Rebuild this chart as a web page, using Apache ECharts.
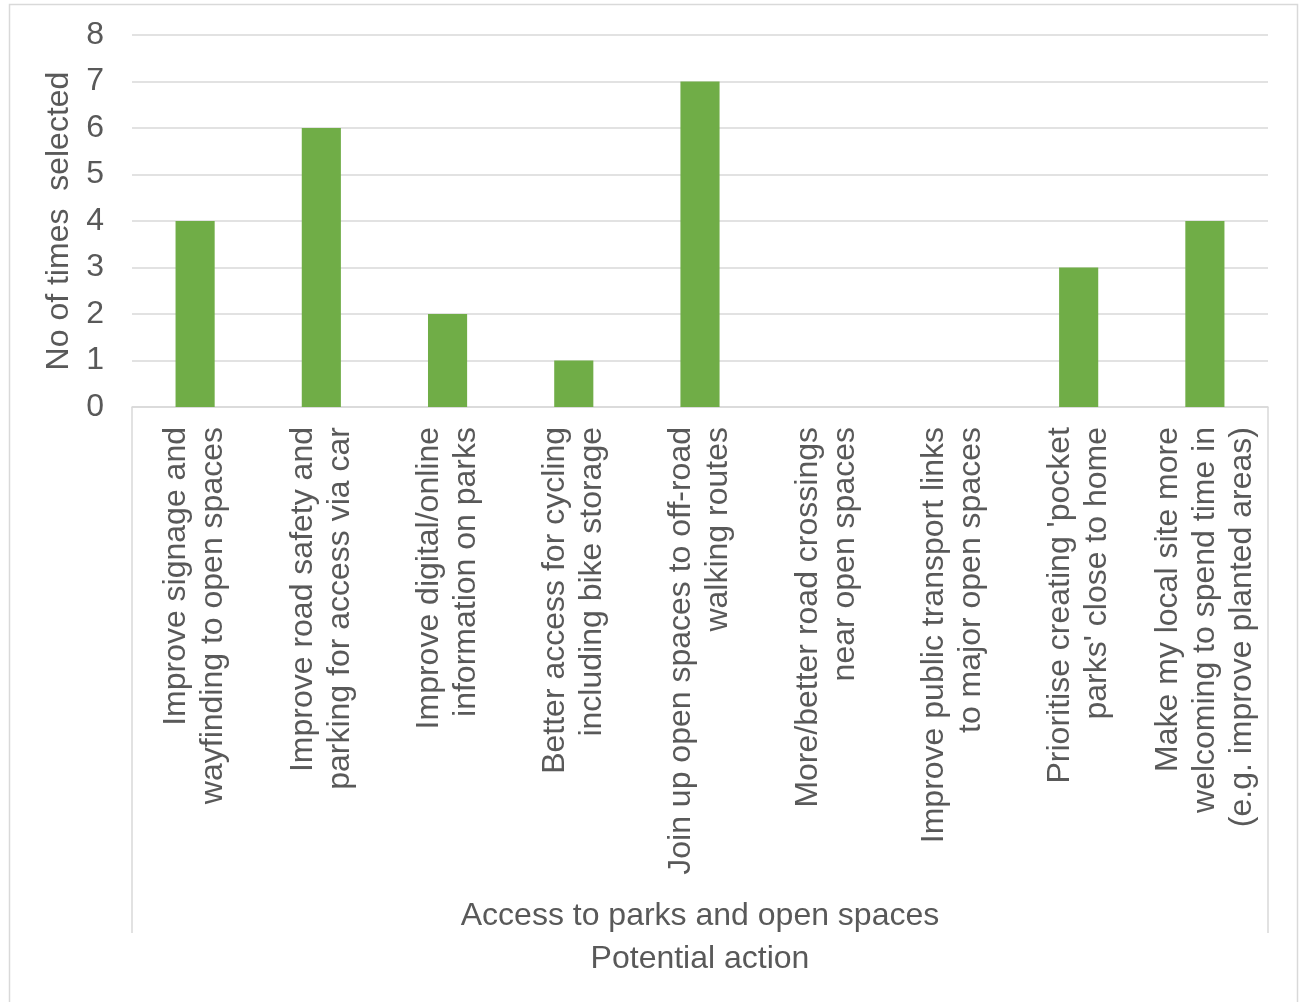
<!DOCTYPE html>
<html>
<head>
<meta charset="utf-8">
<script src="https://cdn.jsdelivr.net/npm/echarts@6/dist/echarts.min.js"></script>
<style>
  html, body { margin: 0; padding: 0; background: #fff; }
  #chart { width: 1302px; height: 1002px; }
</style>
</head>
<body>
<div id="chart"></div>
<script>
// Actions offered under the "Access to parks and open spaces" theme
const categories = [
  "Improve signage and\nwayfinding to open spaces",
  "Improve road safety and\nparking for access via car",
  "Improve digital/online\ninformation on parks",
  "Better access for cycling\nincluding bike storage",
  "Join up open spaces to off-road\nwalking routes",
  "More/better road crossings\nnear open spaces",
  "Improve public transport links\nto major open spaces",
  "Prioritise creating 'pocket\nparks' close to home",
  "Make my local site more\nwelcoming to spend time in\n(e.g. improve planted areas)"
];
const timesSelected = [4, 6, 2, 1, 7, 0, 0, 3, 4];
const groupLabels = ["Access to parks and open spaces"];
const yTicks = [0, 1, 2, 3, 4, 5, 6, 7, 8];

const FONT = "'Liberation Sans', Arial, sans-serif";
const TEXT = "#595959";
const LINE = "#D9D9D9";
const FS = 32;

const chart = echarts.init(document.getElementById("chart"), null, { renderer: "canvas" });

chart.setOption({
  backgroundColor: "#ffffff",
  animation: false,
  textStyle: { fontFamily: FONT },
  grid: { left: 132, right: 34, top: 35, bottom: 595, containLabel: false },
  graphic: [{
    type: "rect",
    shape: { x: 9.5, y: 4.5, width: 1288, height: 1010 },
    style: { fill: null, stroke: LINE, lineWidth: 1.5 },
    silent: true
  }],
  xAxis: [
    {
      type: "category",
      data: categories,
      position: "bottom",
      axisLine: { show: true, lineStyle: { color: LINE, width: 1.5 } },
      axisTick: { show: false },
      axisLabel: {
        rotate: 90,
        interval: 0,
        margin: 20,
        fontSize: FS,
        lineHeight: 37,
        color: TEXT,
        fontFamily: FONT
      }
    },
    {
      type: "category",
      data: groupLabels,
      position: "bottom",
      offset: 526,
      axisLine: { show: false },
      axisTick: { show: true, inside: true, length: 526, lineStyle: { color: LINE, width: 1.5 } },
      axisLabel: { inside: true, margin: 1, fontSize: FS, color: TEXT, fontFamily: FONT },
      name: "Potential action",
      nameLocation: "middle",
      nameGap: 10,
      nameTextStyle: { fontSize: FS, color: TEXT, fontFamily: FONT }
    }
  ],
  yAxis: {
    type: "value",
    min: yTicks[0],
    max: yTicks[yTicks.length - 1],
    interval: 1,
    name: "No of times  selected",
    nameLocation: "middle",
    nameGap: 50,
    nameRotate: 90,
    nameTextStyle: { fontSize: FS, color: TEXT, fontFamily: FONT },
    axisLine: { show: false },
    axisTick: { show: false },
    axisLabel: { fontSize: FS, color: TEXT, margin: 28, fontFamily: FONT },
    splitLine: { lineStyle: { color: LINE, width: 1.5 } }
  },
  series: [{
    type: "bar",
    xAxisIndex: 0,
    data: timesSelected,
    barWidth: "31%",
    itemStyle: { color: "#70AD47" }
  }]
});
</script>
</body>
</html>
